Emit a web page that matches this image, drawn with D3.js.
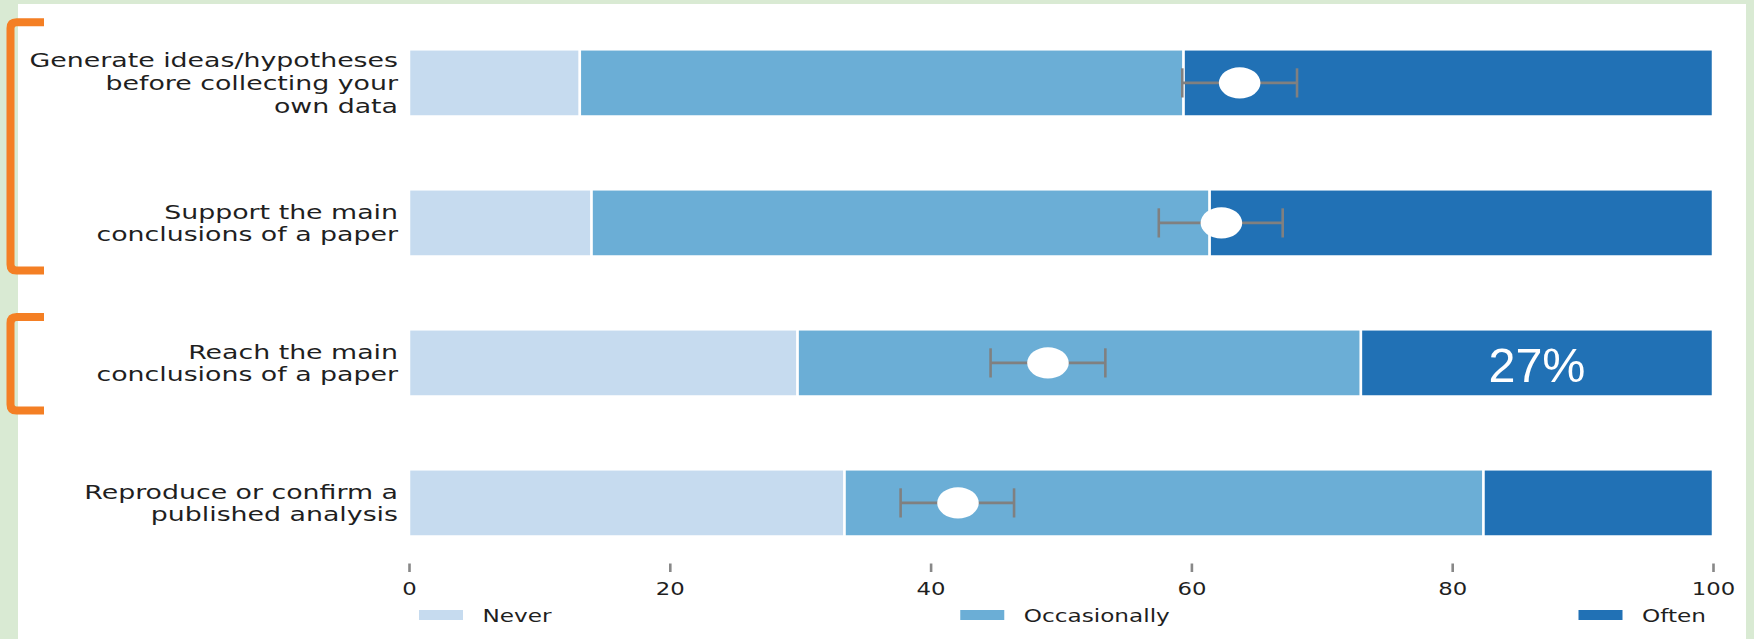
<!DOCTYPE html>
<html>
<head>
<meta charset="utf-8">
<script src="https://cdn.jsdelivr.net/npm/d3@7"></script>
<style>
  html, body { margin: 0; padding: 0; background: #d9ead3; }
  svg { display: block; }
</style>
</head>
<body>
<svg id="chart" width="1754" height="639"></svg>
<script>
// Survey: how often are data visualisations used for each purpose (% of respondents)
const categories = [
  "Generate ideas/hypotheses\nbefore collecting your\nown data",
  "Support the main\nconclusions of a paper",
  "Reach the main\nconclusions of a paper",
  "Reproduce or confirm a\npublished analysis"
];
const seriesNames = ["Never", "Occasionally", "Often"];
const neverPct = [13.1, 14.0, 29.8, 33.4];
const occasionallyPct = [46.3, 47.4, 43.2, 49.0];
const oftenPct = [40.6, 38.6, 27.0, 17.6];

// mean response score with its interval
const meanScore = [63.7, 62.3, 49.0, 42.1];
const ciLow = [59.3, 57.5, 44.6, 37.7];
const ciHigh = [68.1, 67.0, 53.4, 46.4];

const tickValues = [0, 20, 40, 60, 80, 100];

// highlighted value and bracketed groups of rows
const highlightRow = 2;
const highlightSeries = "Often";
const bracketGroups = [[0, 1], [2]];

const colors = { Never: "#c6dbef", Occasionally: "#6baed6", Often: "#2171b5" };
const textColor = "#1f1f1f";
const font = "'DejaVu Sans', sans-serif";
const stretch = 1.34;   // horizontal stretch applied to the figure text

const svg = d3.select("#chart");

// white panel
svg.append("rect").attr("x", 18).attr("y", 4).attr("width", 1728).attr("height", 635)
  .attr("fill", "#ffffff");

const x = d3.scaleLinear().domain([0, 100]).range([409, 1713]);
const y = d3.scaleBand().domain(d3.range(categories.length))
  .range([12.9, 572.9]).paddingInner(0.52).paddingOuter(0.26);

// stacked rows
const rows = categories.map((c, i) => ({
  Never: neverPct[i], Occasionally: occasionallyPct[i], Often: oftenPct[i], idx: i
}));
const stack = d3.stack().keys(seriesNames)(rows);

const barLayer = svg.append("g");
stack.forEach(layer => {
  barLayer.selectAll(null).data(layer).join("rect")
    .attr("x", d => x(d[0]))
    .attr("y", d => y(d.data.idx))
    .attr("width", d => x(d[1]) - x(d[0]))
    .attr("height", y.bandwidth())
    .attr("fill", colors[layer.key])
    .attr("stroke", "#ffffff")
    .attr("stroke-width", 2.5);
});

// interval bars and mean markers
const errLayer = svg.append("g").attr("stroke", "#808080").attr("stroke-width", 2.6);
categories.forEach((c, i) => {
  const cy = y(i) + y.bandwidth() / 2;
  const capH = 14.6;
  errLayer.append("line").attr("x1", x(ciLow[i])).attr("x2", x(ciHigh[i]))
    .attr("y1", cy).attr("y2", cy);
  errLayer.append("line").attr("x1", x(ciLow[i])).attr("x2", x(ciLow[i]))
    .attr("y1", cy - capH).attr("y2", cy + capH);
  errLayer.append("line").attr("x1", x(ciHigh[i])).attr("x2", x(ciHigh[i]))
    .attr("y1", cy - capH).attr("y2", cy + capH);
});
svg.append("g").selectAll("ellipse").data(meanScore).join("ellipse")
  .attr("cx", d => x(d))
  .attr("cy", (d, i) => y(i) + y.bandwidth() / 2)
  .attr("rx", 20.8).attr("ry", 15.6)
  .attr("fill", "#ffffff");

// category labels, right aligned, multi-line
const lineH = 22.7;
const labelLayer = svg.append("g");
categories.forEach((c, i) => {
  const lines = c.split("\n");
  const cy = y(i) + y.bandwidth() / 2;
  const first = cy - (lines.length - 1) * lineH / 2 + 7.2;
  const t = labelLayer.append("text")
    .attr("transform", `translate(398,0) scale(${stretch},1)`)
    .attr("text-anchor", "end")
    .attr("font-family", font).attr("font-size", 20)
    .attr("fill", textColor);
  lines.forEach((ln, k) => {
    t.append("tspan").attr("x", 0).attr("y", first + k * lineH).text(ln);
  });
});

// x axis
const axisY = 563.5;
const axis = svg.append("g").attr("transform", `translate(0,${axisY})`)
  .call(d3.axisBottom(x).tickValues(tickValues).tickSize(8.5).tickPadding(0));
axis.select(".domain").remove();
axis.selectAll(".tick line").attr("stroke", "#888888").attr("stroke-width", 2.6);
axis.selectAll(".tick text")
  .attr("y", 31.5).attr("dy", null)
  .attr("transform", `scale(${stretch},1)`)
  .attr("font-family", font).attr("font-size", 17)
  .attr("fill", textColor);

// legend laid out across the axis width
const legend = svg.append("g");
const swW = 44, swH = 10, swGap = 19.5;
const legLeft = 419, legRight = 1706;
const items = seriesNames.map(name => {
  const g = legend.append("g");
  g.append("rect").attr("width", swW).attr("height", swH).attr("y", 610)
    .attr("fill", colors[name]);
  const t = g.append("text")
    .attr("font-family", font).attr("font-size", 17.3).attr("fill", textColor)
    .attr("transform", `translate(${swW + swGap},621.9) scale(${stretch},1)`)
    .text(name);
  const w = swW + swGap + t.node().getComputedTextLength() * stretch;
  return { g, w };
});
const gap = (legRight - legLeft - d3.sum(items, d => d.w)) / (items.length - 1);
let lx = legLeft;
items.forEach(it => {
  it.g.attr("transform", `translate(${lx},0)`);
  lx += it.w + gap;
});

// value label on the highlighted segment
const hl = stack.find(l => l.key === highlightSeries)[highlightRow];
svg.append("text")
  .attr("x", (x(hl[0]) + x(hl[1])) / 2)
  .attr("y", y(highlightRow) + y.bandwidth() / 2 + 18.7)
  .attr("text-anchor", "middle")
  .attr("font-family", "'Liberation Sans', Arial, sans-serif")
  .attr("font-size", 48.5)
  .attr("fill", "#ffffff")
  .text(`${Math.round(hl[1] - hl[0])}%`);

// orange brackets grouping rows
const bx = 10.5, armEnd = 44, r = 6;
bracketGroups.forEach(g => {
  const top = y(g[0]) - (g.length > 1 ? 27 : 12.3);
  const bot = y(g[g.length - 1]) + y.bandwidth() + 14;
  svg.append("path")
    .attr("d", `M${armEnd},${top} H${bx + r} Q${bx},${top} ${bx},${top + r} V${bot - r} Q${bx},${bot} ${bx + r},${bot} H${armEnd}`)
    .attr("fill", "none")
    .attr("stroke", "#f47f24")
    .attr("stroke-width", 8);
});
</script>
</body>
</html>
